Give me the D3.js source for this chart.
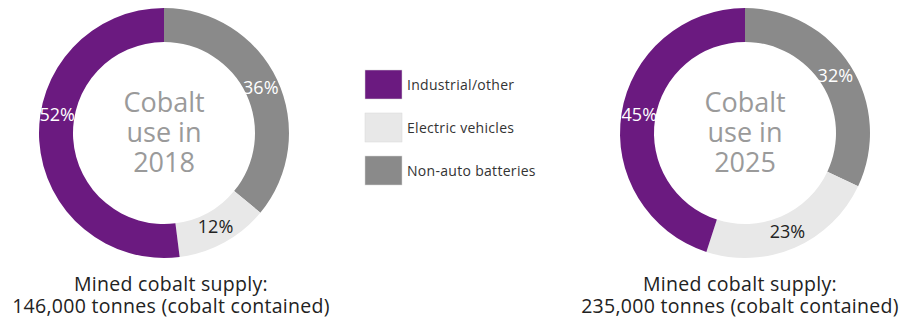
<!DOCTYPE html>
<html lang="en">
<head>
<meta charset="UTF-8">
<title>Cobalt use</title>
<script src="https://cdn.jsdelivr.net/npm/d3@7"></script>
<style>
  body { margin: 0; background: #fff; }
  svg { font-family: "Open Sans", Lato, sans-serif; }
</style>
</head>
<body>
<svg id="chart" width="907" height="320"></svg>
<script>
// data
var categories = ["Non-auto batteries", "Electric vehicles", "Industrial/other"];
var years = ["2018", "2025"];
var share2018 = [36, 12, 52];
var share2025 = [32, 23, 45];
var supply = ["146,000", "235,000"];
var legendOrder = ["Industrial/other", "Electric vehicles", "Non-auto batteries"];

var colors = d3.scaleOrdinal()
    .domain(categories)
    .range(["#8a8a8a", "#e8e8e8", "#6b1a80"]);
var labelColor = { "Non-auto batteries": "#fff", "Electric vehicles": "#222", "Industrial/other": "#fff" };

var svg = d3.select("#chart");
var outerR = 125, innerR = 91;

var pie = d3.pie().sort(null).value(function(d) { return d.v; });
var arc = d3.arc().innerRadius(innerR).outerRadius(outerR);
var labelArc = d3.arc().innerRadius(107).outerRadius(107);

var donuts = [
    { year: years[0], vals: share2018, cx: 164, tx: 171, supply: supply[0] },
    { year: years[1], vals: share2025, cx: 745, tx: 740, supply: supply[1] }
];

donuts.forEach(function(dn) {
    var data = categories.map(function(c, i) { return { cat: c, v: dn.vals[i] }; });
    var g = svg.append("g").attr("transform", "translate(" + dn.cx + ",133)");

    g.selectAll("path")
        .data(pie(data))
        .enter().append("path")
        .attr("d", arc)
        .attr("fill", function(d) { return colors(d.data.cat); });

    g.selectAll("text.pct")
        .data(pie(data))
        .enter().append("text")
        .attr("class", "pct")
        .attr("transform", function(d) {
            var c = labelArc.centroid(d);
            // purple label sits a little higher on the ring
            if (d.data.cat === "Industrial/other") c[1] = Math.min(c[1], -18);
            return "translate(" + c + ")";
        })
        .attr("text-anchor", "middle")
        .attr("dy", "0.35em")
        .style("font-size", "18px")
        .style("fill", function(d) { return labelColor[d.data.cat]; })
        .text(function(d) { return d.data.v + "%"; });

    var center = ["Cobalt", "use in", dn.year];
    g.selectAll("text.ctr")
        .data(center)
        .enter().append("text")
        .attr("class", "ctr")
        .attr("text-anchor", "middle")
        .attr("y", function(d, i) { return (i - 1) * 30; })
        .attr("dy", "0.35em")
        .style("font-size", "27px")
        .style("fill", "#9a9a9a")
        .text(function(d) { return d; });

    svg.append("text")
        .attr("x", dn.tx).attr("y", 291)
        .attr("text-anchor", "middle")
        .style("font-size", "19.5px")
        .style("letter-spacing", "0.3px")
        .style("fill", "#222")
        .text("Mined cobalt supply:");
    svg.append("text")
        .attr("x", dn.tx).attr("y", 313)
        .attr("text-anchor", "middle")
        .style("font-size", "19.5px")
        .style("letter-spacing", "0.3px")
        .style("fill", "#222")
        .text(dn.supply + " tonnes (cobalt contained)");
});

// legend
var legend = svg.append("g").attr("transform", "translate(365,70)");
var item = legend.selectAll("g")
    .data(legendOrder)
    .enter().append("g")
    .attr("transform", function(d, i) { return "translate(0," + i * 43 + ")"; });
item.append("rect")
    .attr("width", 37).attr("height", 29)
    .attr("fill", function(d) { return colors(d); })
    .attr("stroke", "#d8d8d8").attr("stroke-width", 0.5);
item.append("text")
    .attr("x", 42).attr("y", 15).attr("dy", "0.35em")
    .style("font-size", "14px")
    .style("letter-spacing", "0.3px")
    .style("fill", "#333")
    .text(function(d) { return d; });
</script>
</body>
</html>
